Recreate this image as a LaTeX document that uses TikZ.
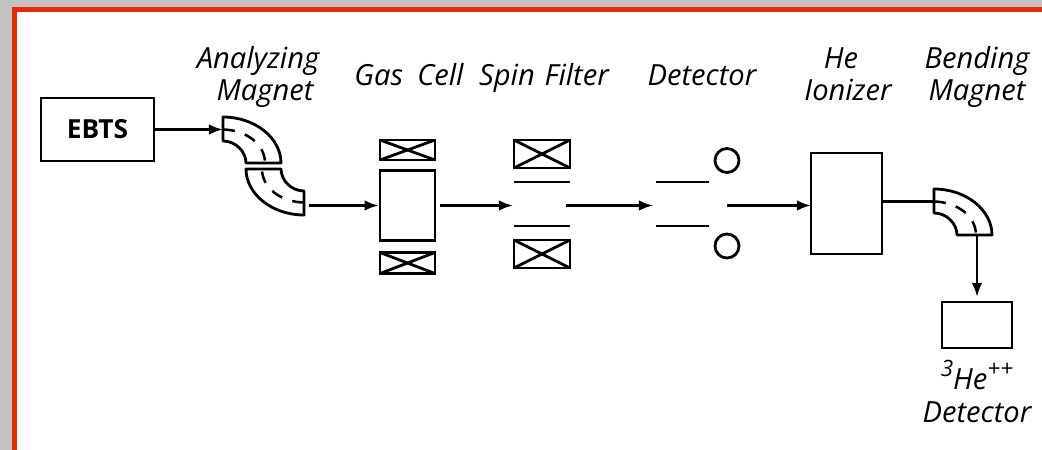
\documentclass[tikz,border=0pt]{standalone}
\usepackage{fontspec}
\setmainfont{Open Sans}
\usetikzlibrary{arrows.meta, positioning}

\definecolor{frameRed}{HTML}{E62A0A}
\definecolor{frameGray}{HTML}{C2C2C2}

\newcommand{\supmark}[1]{\raisebox{0.42em}{\fontsize{16}{16}\selectfont #1}}

\tikzset{
    part/.style={rectangle, draw, line width=2pt, inner sep=0pt},
    coil/.style={part, path picture={
        \draw[line width=2pt] (path picture bounding box.north west) -- (path picture bounding box.south east);
        \draw[line width=2pt] (path picture bounding box.south west) -- (path picture bounding box.north east);}},
    plate/.style={line width=2.1pt},
    beam/.style={line width=1.8pt, -{Latex[length=10pt,width=7.5pt]}},
    label/.style={font=\itshape\fontsize{20.7}{24}\selectfont, inner sep=0pt, anchor=base},
    magnet/.pic={
        \coordinate (-in) at (0,12.5);
        \draw[line width=2pt, line join=round] (0,0) .. controls (32,0) and (58,21) .. (58,46) -- (23,46)
            .. controls (23,35) and (13,24) .. (0,24) -- cycle;
        \draw[line width=1.8pt, dash pattern=on 8.5pt off 7.5pt] (0,12.5) .. controls (23,13) and (42,27) .. (42,46);
    }
}

\begin{document}
\begin{tikzpicture}[x=0.25mm, y=-0.25mm]
    \useasboundingbox (0,0) rectangle (1042,450);
    \fill[frameGray] (0,0) rectangle (1042,450);
    \fill[frameRed] (12,7) rectangle (1042,450);
    \fill[white] (17,12) rectangle (1042,450);

    \node[part, minimum width=28.25mm, minimum height=15.75mm] (EBTS) at (97.5,129.5) {\fontsize{18.7}{20}\selectfont\bfseries EBTS};
    \pic (magnetA) at (223,117) {magnet};
    \pic[rotate=180] (magnetB) at (304,215) {magnet};
    \coordinate (magnetBout) at (309,205.5);

    \node[part, minimum width=13.75mm, minimum height=17.5mm] (gasCell) at (407.5,205.5) {};
    \node[coil, minimum width=13.75mm, minimum height=5mm] (gasTop) at (407.5,150) {};
    \node[coil, minimum width=13.75mm, minimum height=5.25mm] (gasBot) at (407.5,263) {};

    \node[coil, minimum width=14mm, minimum height=7mm] (spinTop) at (542,154) {};
    \node[coil, minimum width=14mm, minimum height=7mm] (spinBot) at (542,254) {};
    \coordinate (spinIn) at (513,205.5);
    \coordinate (spinOut) at (566,205.5);
    \draw[plate] (514,182) -- (570,182);
    \draw[plate] (514,226) -- (570,226);

    \coordinate (detIn) at (653,205.5);
    \coordinate (detOut) at (727,205.5);
    \draw[plate] (656,182) -- (709,182);
    \draw[plate] (656,226) -- (709,226);
    \node[circle, draw, line width=2pt, minimum size=6mm, inner sep=0pt] (detTop) at (727,160.5) {};
    \node[circle, draw, line width=2pt, minimum size=6mm, inner sep=0pt] (detBot) at (727,246) {};

    \node[part, minimum width=17.75mm, minimum height=25.25mm] (ionizer) at (846.5,203.5) {};
    \coordinate (ionizerIn) at (811,205.5);
    \coordinate (ionizerOut) at (882,201.5);
    \pic (magnetC) at (934,189) {magnet};
    \coordinate (magnetCout) at (977,235);
    \node[part, minimum width=17.5mm, minimum height=11.5mm] (he3Det) at (977,325) {};
    \coordinate (he3In) at (977,297);

    \draw[beam] (EBTS.east) -- (magnetA-in);
    \draw[beam] (magnetBout) -- (gasCell.west);
    \draw[beam] ([xshift=1mm] gasCell.east) -- (spinIn);
    \draw[beam] (spinOut) -- (detIn);
    \draw[beam] (detOut) -- (ionizerIn);
    \draw[line width=1.8pt] (ionizerOut) -- (magnetC-in);
    \draw[beam] (magnetCout) -- (he3In);

    \node[label] (analyzing) at (258,68.5) {Analyzing};
    \node[label] (magnetAname) at (265,101) {Magnet};
    \node[label] (gasName) at (409,85) {Gas\hspace{10pt}Cell};
    \node[label] (spinName) at (544,85) {Spin\hspace{7pt}Filter};
    \node[label] (detName) at (702,85) {Detector};
    \node[label] (heName) at (841,68.5) {He};
    \node[label] (ionName) at (848,101) {Ionizer};
    \node[label] (bendName) at (977,68.5) {Bending};
    \node[label] (magnetCname) at (977,101) {Magnet};
    \node[label] (he3Name) at (977,389) {\supmark{3}He\supmark{++}};
    \node[label] (he3Det2) at (977,422.5) {Detector};
\end{tikzpicture}
\end{document}
